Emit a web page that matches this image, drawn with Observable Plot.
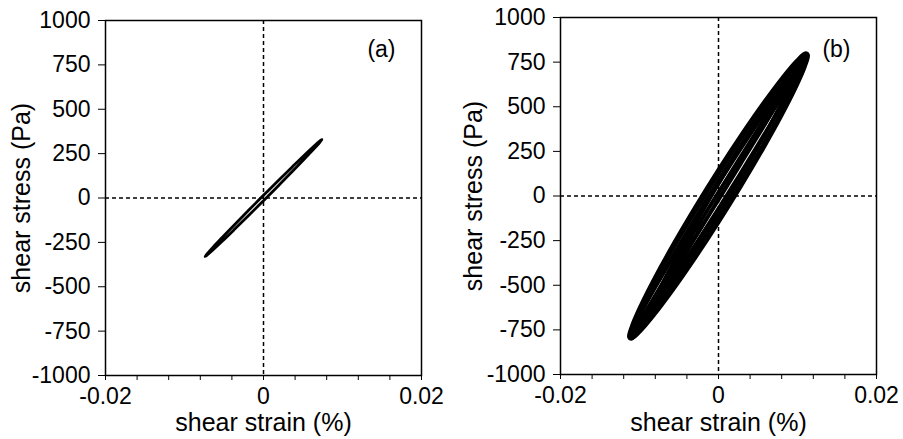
<!DOCTYPE html>
<html>
<head>
<meta charset="utf-8">
<script src="https://cdn.jsdelivr.net/npm/d3@7"></script>
<script src="https://cdn.jsdelivr.net/npm/@observablehq/plot@0.6"></script>
<style>
  html, body { margin: 0; padding: 0; background: #fff; }
  #wrap { display: flex; width: 903px; height: 439px; }
</style>
</head>
<body>
<div id="wrap"><div id="pa"></div><div id="pb"></div></div>
<script>
// ---- tick values & labels ----
const xTicks = [-0.02, -0.016, -0.012, -0.008, -0.004, 0, 0.004, 0.008, 0.012, 0.016, 0.02];
const xLabelValues = [-0.02, 0, 0.02];
const xLabelTexts = ["-0.02", "0", "0.02"];
const yTicks = [-1000, -750, -500, -250, 0, 250, 500, 750, 1000];
const yTickLabels = ["-1000", "-750", "-500", "-250", "0", "250", "500", "750", "1000"];
const xTitle = "shear strain (%)";
const yTitle = "shear stress (Pa)";
const panelLabels = ["(a)", "(b)"];

// ---- panel (a): one thin loop ----
const loopA_strain = [0.0074, 0.00715, 0.00641, 0.00523, 0.0037, 0.00192, 0, -0.00192, -0.0037, -0.00523, -0.00641, -0.00715,
                      -0.0074, -0.00715, -0.00641, -0.00523, -0.0037, -0.00192, 0, 0.00192, 0.0037, 0.00523, 0.00641, 0.00715];
const loopA_stress = [330, 322, 293, 244, 178, 100, 15, -71, -152, -223, -278, -315,
                      -330, -322, -293, -244, -178, -100, -15, 71, 152, 223, 278, 315];

// ---- panel (b): many overlapping loops ----
const loopB1_strain = [0.0114, 0.01101, 0.00987, 0.00806, 0.0057, 0.00295, 0, -0.00295, -0.0057, -0.00806, -0.00987, -0.01101,
                       -0.0114, -0.01101, -0.00987, -0.00806, -0.0057, -0.00295, 0, 0.00295, 0.0057, 0.00806, 0.00987, 0.01101];
const loopB1_stress = [790, 803, 761, 667, 528, 353, 154, -56, -262, -450, -608, -724,
                       -790, -803, -761, -667, -528, -353, -154, 56, 262, 450, 608, 724];
const loopB2_strain = [0.0112, 0.01082, 0.0097, 0.00792, 0.0056, 0.0029, 0, -0.0029, -0.0056, -0.00792, -0.0097, -0.01082,
                       -0.0112, -0.01082, -0.0097, -0.00792, -0.0056, -0.0029, 0, 0.0029, 0.0056, 0.00792, 0.0097, 0.01082];
const loopB2_stress = [786, 790, 740, 639, 495, 317, 118, -90, -291, -473, -622, -729,
                       -786, -790, -740, -639, -495, -317, -118, 90, 291, 473, 622, 729];
const loopB3_strain = [0.011, 0.01062, 0.00953, 0.00778, 0.0055, 0.00285, 0, -0.00285, -0.0055, -0.00778, -0.00953, -0.01062,
                       -0.011, -0.01062, -0.00953, -0.00778, -0.0055, -0.00285, 0, 0.00285, 0.0055, 0.00778, 0.00953, 0.01062];
const loopB3_stress = [776, 770, 713, 606, 458, 280, 82, -122, -317, -491, -631, -728,
                       -776, -770, -713, -606, -458, -280, -82, 122, 317, 491, 631, 728];
const loopB4_strain = [0.0104, 0.01005, 0.00901, 0.00735, 0.0052, 0.00269, 0, -0.00269, -0.0052, -0.00735, -0.00901, -0.01005,
                       -0.0104, -0.01005, -0.00901, -0.00735, -0.0052, -0.00269, 0, 0.00269, 0.0052, 0.00735, 0.00901, 0.01005];
const loopB4_stress = [727, 719, 662, 559, 419, 250, 64, -127, -308, -469, -598, -686,
                       -727, -719, -662, -559, -419, -250, -64, 127, 308, 469, 598, 686];
const loopB5_strain = [0.0095, 0.00917, 0.00819, 0.00663, 0.0046, 0.00224, -0.0003, -0.00284, -0.0052, -0.00723, -0.00879, -0.00977,
                       -0.0101, -0.00977, -0.00879, -0.00723, -0.0052, -0.00284, -0.0003, 0.00224, 0.0046, 0.00663, 0.00819, 0.00917];
const loopB5_stress = [691, 696, 654, 566, 441, 285, 109, -73, -251, -411, -544, -639,
                       -691, -696, -654, -566, -441, -285, -109, 73, 251, 411, 544, 639];
const loopB6_strain = [0.0090, 0.0087, 0.00782, 0.00642, 0.0046, 0.00248, 0.0002, -0.00208, -0.0042, -0.0060, -0.00742, -0.0083,
                       -0.0086, -0.0083, -0.00742, -0.0060, -0.0042, -0.00208, 0.0002, 0.00248, 0.0046, 0.00642, 0.00782, 0.0087];
const loopB6_stress = [644, 645, 603, 519, 400, 254, 90, -79, -243, -391, -512, -598,
                       -644, -645, -603, -519, -400, -254, -90, 79, 243, 391, 512, 598];
const loopB7_strain = [0.0073, 0.00704, 0.00628, 0.00507, 0.0035, 0.00167, -0.0003, -0.00227, -0.0041, -0.00567, -0.00688, -0.00764,
                       -0.0079, -0.00764, -0.00688, -0.00567, -0.0041, -0.00227, -0.0003, 0.00167, 0.0035, 0.00507, 0.00628, 0.00704];
const loopB7_stress = [579, 569, 521, 438, 324, 189, 40, -111, -254, -381, -481, -548,
                       -579, -569, -521, -438, -324, -189, -40, 111, 254, 381, 481, 548];
const loopB8_strain = [0.0113, 0.01091, 0.00979, 0.00799, 0.00565, 0.00292, 0, -0.00292, -0.00565, -0.00799, -0.00979, -0.01091,
                       -0.0113, -0.01091, -0.00979, -0.00799, -0.00565, -0.00292, 0, 0.00292, 0.00565, 0.00799, 0.00979, 0.01091];
const loopB8_stress = [788, 797, 752, 655, 514, 338, 139, -70, -274, -459, -613, -725,
                       -788, -797, -752, -655, -514, -338, -139, 70, 274, 459, 613, 725];
const loopB9_strain = [0.0111, 0.01072, 0.00961, 0.00785, 0.00555, 0.00287, 0, -0.00287, -0.00555, -0.00785, -0.00961, -0.01072,
                       -0.0111, -0.01072, -0.00961, -0.00785, -0.00555, -0.00287, 0, 0.00287, 0.00555, 0.00785, 0.00961, 0.01072];
const loopB9_stress = [790, 770, 697, 578, 419, 231, 28, -178, -371, -539, -670, -755,
                       -790, -770, -697, -578, -419, -231, -28, 178, 371, 539, 670, 755];
const loopB10_strain = [0.0108, 0.01043, 0.00935, 0.00764, 0.0054, 0.0028, 0, -0.0028, -0.0054, -0.00764, -0.00935, -0.01043,
                        -0.0108, -0.01043, -0.00935, -0.00764, -0.0054, -0.0028, 0, 0.0028, 0.0054, 0.00764, 0.00935, 0.01043];
const loopB10_stress = [764, 763, 709, 607, 463, 288, 94, -107, -301, -474, -615, -714,
                        -764, -763, -709, -607, -463, -288, -94, 107, 301, 474, 615, 714];
const loopB11_strain = [0.0112, 0.01082, 0.0097, 0.00792, 0.0056, 0.0029, 0, -0.0029, -0.0056, -0.00792, -0.0097, -0.01082,
                        -0.0112, -0.01082, -0.0097, -0.00792, -0.0056, -0.0029, 0, 0.0029, 0.0056, 0.00792, 0.0097, 0.01082];
const loopB11_stress = [795, 771, 695, 572, 409, 219, 14, -192, -385, -552, -681, -764,
                        -795, -771, -695, -572, -409, -219, -14, 192, 385, 552, 681, 764];

function toRows(name, xs, ys) { return xs.map((x, i) => ({loop: name, strain: x, stress: ys[i]})); }
const dataA = toRows("A", loopA_strain, loopA_stress);
const dataB = [
  ...toRows("B1", loopB1_strain, loopB1_stress),
  ...toRows("B2", loopB2_strain, loopB2_stress),
  ...toRows("B3", loopB3_strain, loopB3_stress),
  ...toRows("B4", loopB4_strain, loopB4_stress),
  ...toRows("B5", loopB5_strain, loopB5_stress),
  ...toRows("B6", loopB6_strain, loopB6_stress),
  ...toRows("B7", loopB7_strain, loopB7_stress),
  ...toRows("B8", loopB8_strain, loopB8_stress),
  ...toRows("B9", loopB9_strain, loopB9_stress),
  ...toRows("B10", loopB10_strain, loopB10_stress),
  ...toRows("B11", loopB11_strain, loopB11_stress)
];

const FONT = "'Liberation Sans', Arial, Helvetica, sans-serif";

function xFmt(d) {
  const i = xLabelValues.findIndex(v => Math.abs(v - d) < 1e-9);
  return i >= 0 ? xLabelTexts[i] : "";
}
function yFmt(d) {
  const i = yTicks.findIndex(v => Math.abs(v - d) < 1e-9);
  return i >= 0 ? yTickLabels[i] : "";
}

function panel(data, label, m, lw) {
  return Plot.plot({
    width: m.w, height: 439,
    marginLeft: m.l, marginRight: m.r, marginTop: m.t, marginBottom: m.b,
    style: {fontFamily: FONT, fontSize: "23px", color: "#000", background: "#fff", overflow: "visible"},
    x: {domain: [-0.02, 0.02], ticks: xTicks, tickFormat: xFmt, tickSize: 5, tickPadding: 7, label: null},
    y: {domain: [-1000, 1000], ticks: yTicks, tickFormat: yFmt, tickSize: 7, tickPadding: 8, label: null},
    marks: [
      Plot.ruleX([0], {stroke: "#000", strokeWidth: 1.5, strokeDasharray: "4,3"}),
      Plot.ruleY([0], {stroke: "#000", strokeWidth: 1.5, strokeDasharray: "4,3"}),
      Plot.line(data, {x: "strain", y: "stress", z: "loop", curve: "catmull-rom-closed", stroke: "#000", strokeWidth: lw}),
      Plot.frame({stroke: "#000", strokeWidth: 1.5}),
      Plot.text([xTitle], {text: d => d, frameAnchor: "bottom", dy: m.xt, textAnchor: "middle", lineAnchor: "middle", fontSize: 25, fontFamily: FONT, fill: "#000"}),
      Plot.text([yTitle], {text: d => d, frameAnchor: "left", dx: m.yt, rotate: -90, textAnchor: "middle", lineAnchor: "middle", fontSize: 25, fontFamily: FONT, fill: "#000"}),
      Plot.text([label], {text: d => d, frameAnchor: "top-right", dx: -26, dy: m.lt, textAnchor: "end", lineAnchor: "middle", fontSize: 23, fontFamily: FONT, fill: "#000"})
    ]
  });
}

document.getElementById("pa").appendChild(
  panel(dataA, panelLabels[0], {w: 452, l: 105, r: 31, t: 20, b: 64, xt: 47, yt: -84, lt: 29}, 2.8));
document.getElementById("pb").appendChild(
  panel(dataB, panelLabels[1], {w: 451, l: 108, r: 27, t: 17, b: 65, xt: 48, yt: -87, lt: 32}, 2.6));
</script>
</body>
</html>
